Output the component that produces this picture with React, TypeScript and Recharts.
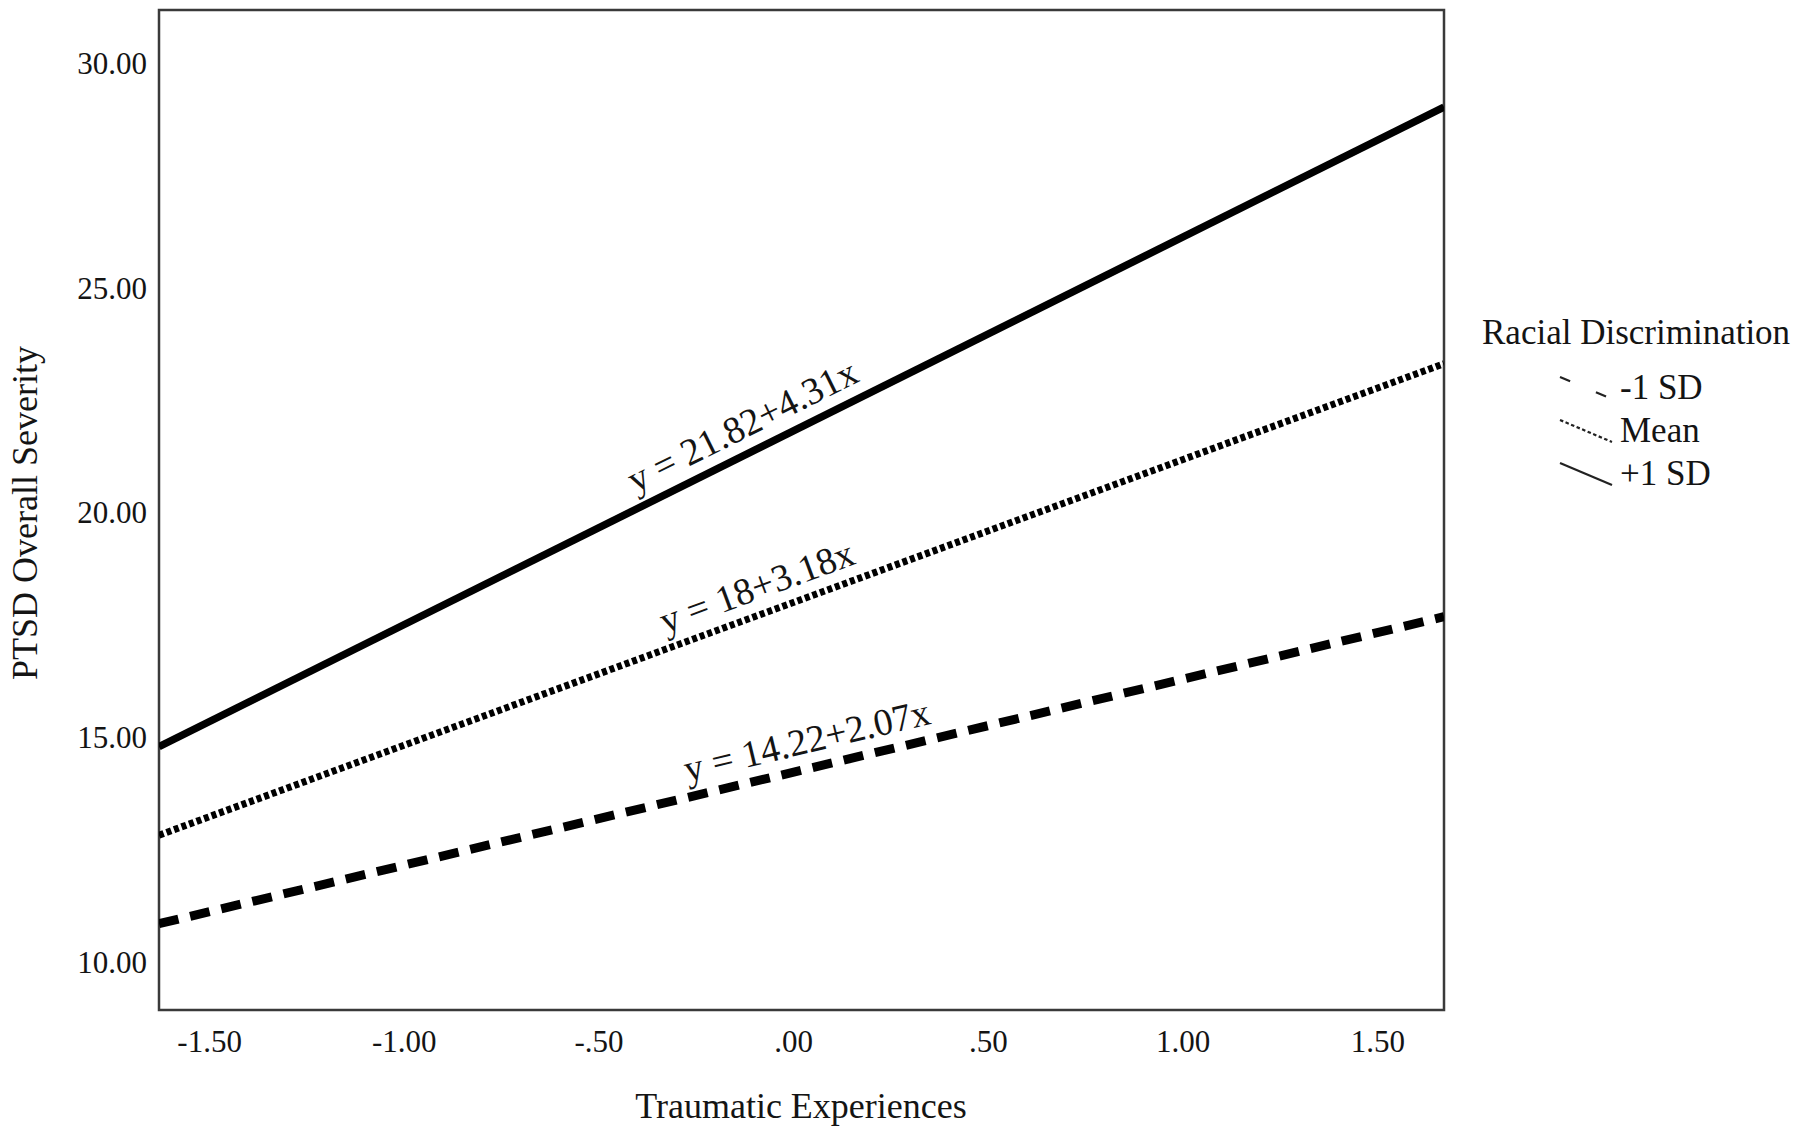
import React from "react";
import {
  LineChart,
  Line,
  XAxis,
  YAxis,
  ReferenceArea,
  ReferenceDot,
  Legend,
  Label,
} from "recharts";

// ---------- data ----------
const xValues = [-1.63, 1.67];
const minus1SD = [10.85, 17.68];
const meanSD = [12.82, 23.31];
const plus1SD = [14.79, 29.02];

const xTicks = [-1.5, -1.0, -0.5, 0, 0.5, 1.0, 1.5];
const yTicks = [10, 15, 20, 25, 30];
const xDomain = [-1.63, 1.67];
const yDomain = [8.93, 31.18];

const seriesKeys = ["minus1", "mean", "plus1"];
const seriesNames = ["-1 SD", "Mean", "+1 SD"];

const equationTexts = ["y = 14.22+2.07x", "y = 18+3.18x", "y = 21.82+4.31x"];
const equationX = [0.05, -0.07, -0.1];
const equationY = [14.33, 17.77, 21.38];
const equationAngle = [-13.4, -20.2, -26.5];

const legendTitle = "Racial Discrimination";
const xTitle = "Traumatic Experiences";
const yTitle = "PTSD Overall Severity";

const data = xValues.map((x, i) => ({
  x,
  minus1: minus1SD[i],
  mean: meanSD[i],
  plus1: plus1SD[i],
}));

// ---------- styles ----------
const FONT = "'Liberation Serif', 'Times New Roman', Times, serif";
const TEXT = "#141414";
const lineStyles: Record<string, { dash?: string; width: number }> = {
  minus1: { dash: "20 12", width: 9 },
  mean: { dash: "5 3", width: 7 },
  plus1: { width: 7.5 },
};
const legendDash: Record<string, string | undefined> = {
  minus1: "11 28",
  mean: "3.5 2.5",
  plus1: undefined,
};

const fmtX = (v: number) => {
  const s = v.toFixed(2);
  return s.replace(/^(-?)0\./, "$1.");
};
const fmtY = (v: number) => v.toFixed(2);

const renderLegend = () => (
  <div style={{ fontFamily: FONT, color: TEXT }}>
    <div style={{ fontSize: 35, lineHeight: "40px", whiteSpace: "nowrap" }}>
      {legendTitle}
    </div>
    <div style={{ marginLeft: 76, marginTop: 13 }}>
      {seriesKeys.map((k, i) => (
        <div
          key={k}
          style={{
            display: "flex",
            alignItems: "center",
            height: 43,
            fontSize: 35,
            whiteSpace: "nowrap",
          }}
        >
          <svg width={58} height={30} style={{ marginRight: 4 }}>
            <line
              x1={2}
              y1={4}
              x2={54}
              y2={26}
              stroke="#222"
              strokeWidth={2.2}
              strokeDasharray={legendDash[k]}
            />
          </svg>
          <span>{seriesNames[i]}</span>
        </div>
      ))}
    </div>
  </div>
);

const EqLabel = (text: string, angle: number) => (props: any) => {
  const vb = props.viewBox || {};
  const cx = (vb.x ?? 0) + (vb.width ?? 0) / 2;
  const cy = (vb.y ?? 0) + (vb.height ?? 0) / 2;
  return (
    <text
      x={cx}
      y={cy}
      dy={-15}
      textAnchor="middle"
      transform={`rotate(${angle} ${cx} ${cy})`}
      fontFamily={FONT}
      fontSize={38}
      fill={TEXT}
    >
      {text}
    </text>
  );
};

export default function App() {
  return (
    <div
      style={{
        position: "absolute",
        left: 0,
        top: 0,
        width: 1800,
        height: 1144,
        background: "#fff",
      }}
    >
      <LineChart
        width={1800}
        height={1144}
        data={data}
        margin={{ top: 10, right: 356, bottom: 74, left: 59 }}
      >
        <XAxis
          type="number"
          dataKey="x"
          domain={xDomain}
          ticks={xTicks}
          tickFormatter={fmtX}
          allowDataOverflow
          height={60}
          axisLine={false}
          tickLine={false}
          tickSize={0}
          tickMargin={20}
          tick={{ fontFamily: FONT, fontSize: 31, fill: TEXT }}
        >
          <Label
            content={() => (
              <text
                x={801}
                y={1118}
                textAnchor="middle"
                fontFamily={FONT}
                fontSize={36}
                fill={TEXT}
              >
                {xTitle}
              </text>
            )}
          />
        </XAxis>
        <YAxis
          type="number"
          domain={yDomain}
          ticks={yTicks}
          tickFormatter={fmtY}
          allowDataOverflow
          width={100}
          axisLine={false}
          tickLine={false}
          tickSize={0}
          tickMargin={12}
          tick={{ fontFamily: FONT, fontSize: 31, fill: TEXT }}
        >
          <Label
            content={() => (
              <text
                x={37}
                y={513}
                textAnchor="middle"
                transform="rotate(-90 37 513)"
                fontFamily={FONT}
                fontSize={36}
                fill={TEXT}
              >
                {yTitle}
              </text>
            )}
          />
        </YAxis>
        <ReferenceArea
          x1={xDomain[0]}
          x2={xDomain[1]}
          y1={yDomain[0]}
          y2={yDomain[1]}
          fill="none"
          stroke="#3a3a3a"
          strokeWidth={2.5}
          ifOverflow="visible"
        />
        {seriesKeys.map((k, i) => (
          <Line
            key={k}
            type="linear"
            dataKey={k}
            name={seriesNames[i]}
            stroke="#000"
            strokeWidth={lineStyles[k].width}
            strokeDasharray={lineStyles[k].dash}
            dot={false}
            activeDot={false}
            isAnimationActive={false}
          />
        ))}
        {seriesKeys.map((k, i) => (
          <ReferenceDot
            key={"eq" + k}
            x={equationX[i]}
            y={equationY[i]}
            r={0}
            fill="none"
            stroke="none"
            label={EqLabel(equationTexts[i], equationAngle[i])}
          />
        ))}
        <Legend
          layout="vertical"
          align="center"
          verticalAlign="middle"
          content={renderLegend}
          wrapperStyle={{ position: "absolute", left: 1482, top: 313, width: 318 }}
        />
      </LineChart>
    </div>
  );
}
